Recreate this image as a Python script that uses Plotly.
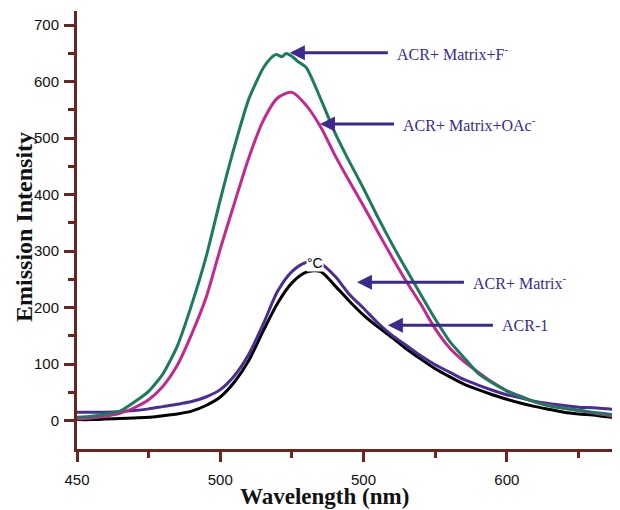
import plotly.graph_objects as go

# ---------------- data ----------------
wl = [450, 455, 460, 465, 470, 475, 480, 485, 490, 495, 500, 505, 510, 515, 520,
      525, 530, 535, 540, 545, 550, 555, 560, 565, 570, 575, 580, 585, 590, 595,
      600, 605, 610, 615, 620, 625, 630, 635, 640]

acr1 = [2, 2, 3, 4, 5, 6, 9, 12, 17, 27, 42, 69, 107, 159, 208,
        244, 263, 264, 239, 212, 187, 166, 147, 127, 109, 92, 78, 65, 55, 46,
        38, 31, 25, 20, 15, 12, 10, 7, 5]

acr_matrix = [15, 15, 15, 16, 18, 21, 25, 29, 34, 42, 55, 80, 118, 171, 229,
              264, 280, 278, 256, 224, 199, 173, 151, 133, 115, 99, 86, 73, 63, 54,
              46, 40, 34, 30, 27, 24, 23, 21, 19]

acr_oac = [3, 5, 8, 13, 23, 37, 61, 98, 153, 217, 304, 386, 466, 531, 571,
           581, 558, 520, 470, 424, 380, 334, 289, 246, 206, 163, 129, 105, 86, 68,
           53, 43, 33, 27, 22, 18, 14, 10, 6]

wl_f = [450, 455, 460, 465, 470, 475, 480, 485, 490, 495, 500, 505, 510, 515,
        517.5, 519.5, 521.5, 523, 525, 527, 530, 535, 540, 545, 550, 555, 560, 565,
        570, 575, 580, 585, 590, 595, 600, 605, 610, 615, 620, 625, 630, 635, 640]
acr_f = [6, 8, 12, 17, 33, 52, 83, 132, 205, 289, 391, 486, 570, 624,
         641, 648, 644, 650, 645, 636, 625, 570, 510, 459, 411, 360, 312, 267,
         223, 180, 141, 112, 84, 67, 53, 42, 33, 26, 22, 19, 15, 12, 9]

x_tickvals = [450, 500, 550, 600]
x_ticktext = ["450", "500", "500", "600"]
x_minor = [475, 525, 575, 625]
y_tickvals = [0, 100, 200, 300, 400, 500, 600, 700]
y_ticktext = ["0", "100", "200", "300", ".400", "500", "600", "700"]
y_minor = [50, 150, 250, 350, 450, 550, 650]

labels = ["ACR+ Matrix+F<sup>-</sup>", "ACR+ Matrix+OAc<sup>-</sup>",
          "ACR+ Matrix<sup>-</sup>", "ACR-1"]
label_tips_x = [524.3, 534.8, 547.7, 558.5]
label_tips_y = [651, 525, 245, 169]
label_offsets = [98, 74, 107, 105]

# ---------------- styles ----------------
axis_color = "#6b2420"
ann_color = "#3d2a8c"
serif = "Liberation Serif, Times New Roman, serif"
sans = "Liberation Sans, Arial, sans-serif"

fig = go.Figure()
fig.add_trace(go.Scatter(x=wl, y=acr1, mode="lines", name="ACR-1",
                         line=dict(color="#000000", width=3, shape="spline", smoothing=0.8)))
fig.add_trace(go.Scatter(x=wl, y=acr_matrix, mode="lines", name="ACR+ Matrix",
                         line=dict(color="#4a2c96", width=3, shape="spline", smoothing=0.8)))
fig.add_trace(go.Scatter(x=wl, y=acr_oac, mode="lines", name="ACR+ Matrix+OAc",
                         line=dict(color="#c2288e", width=3, shape="spline", smoothing=0.8)))
fig.add_trace(go.Scatter(x=wl_f, y=acr_f, mode="lines", name="ACR+ Matrix+F",
                         line=dict(color="#1d7a5e", width=3, shape="spline", smoothing=0.6)))

for txt, tx, ty, off in zip(labels, label_tips_x, label_tips_y, label_offsets):
    fig.add_annotation(x=tx, y=ty, xref="x", yref="y", ax=off, ay=0,
                       text=txt, showarrow=True, arrowhead=2, arrowsize=1,
                       arrowwidth=3, arrowcolor=ann_color,
                       xanchor="left", yanchor="middle", borderpad=8,
                       font=dict(family=serif, size=16, color=ann_color))

fig.add_annotation(x=533, y=279, xref="x", yref="y", text="°C", showarrow=False,
                   bgcolor="white", borderpad=0,
                   font=dict(family=sans, size=14, color="#000000"))

fig.add_annotation(x=0.455, y=-0.109, xref="paper", yref="paper",
                   text="<b>Wavelength (nm)</b>", showarrow=False,
                   xanchor="center", yanchor="middle",
                   font=dict(family=serif, size=23, color="#111111"))
fig.add_annotation(x=-0.0976, y=0.507, xref="paper", yref="paper",
                   text="<b>Emission Intensity</b>", showarrow=False, textangle=-90,
                   xanchor="center", yanchor="middle",
                   font=dict(family=serif, size=24, color="#111111"))

fig.update_xaxes(range=[450, 639.5], tickvals=x_tickvals, ticktext=x_ticktext,
                 ticks="outside", ticklen=10, tickwidth=3, tickcolor=axis_color,
                 showline=True, linecolor=axis_color, linewidth=3, automargin=False,
                 showgrid=False, zeroline=False, ticklabelstandoff=5,
                 tickfont=dict(family=sans, size=15, color="#111111"),
                 minor=dict(tickvals=x_minor, ticks="outside", ticklen=6,
                            tickwidth=3, tickcolor=axis_color, showgrid=False))
fig.update_yaxes(range=[-50, 725], tickvals=y_tickvals, ticktext=y_ticktext,
                 ticks="outside", ticklen=10, tickwidth=3, tickcolor=axis_color,
                 showline=True, linecolor=axis_color, linewidth=3, automargin=False,
                 showgrid=False, zeroline=False, ticklabelstandoff=2,
                 tickfont=dict(family=sans, size=15, color="#111111"),
                 minor=dict(tickvals=y_minor, ticks="outside", ticklen=6,
                            tickwidth=3, tickcolor=axis_color, showgrid=False))

# page body has an 8px margin: size/margins compensate so the plot lands where the reference has it
fig.update_layout(width=612, height=502, margin=dict(l=69, r=0, t=3, b=61),
                  plot_bgcolor="white", paper_bgcolor="white", showlegend=False)

fig.write_html("out.html")
